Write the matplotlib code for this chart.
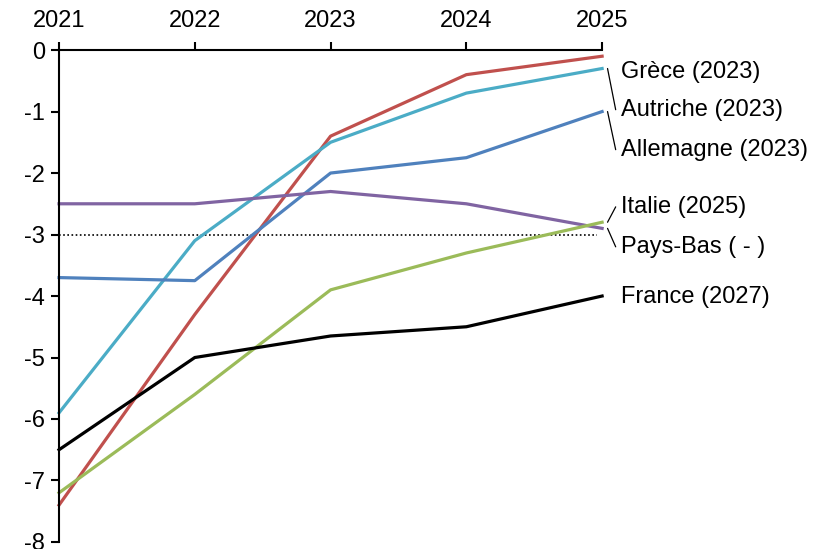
import matplotlib.pyplot as plt

plt.rcParams['font.family'] = ['Liberation Sans', 'DejaVu Sans']
plt.rcParams['axes.unicode_minus'] = False

years = [2021, 2022, 2023, 2024, 2025]
grece = [-7.4, -4.3, -1.4, -0.4, -0.1]
autriche = [-5.9, -3.1, -1.5, -0.7, -0.3]
allemagne = [-3.7, -3.75, -2.0, -1.75, -1.0]
pays_bas = [-2.5, -2.5, -2.3, -2.5, -2.9]
italie = [-7.2, -5.6, -3.9, -3.3, -2.8]
france = [-6.5, -5.0, -4.65, -4.5, -4.0]

series = [
    (grece, '#C0504D', 'Grèce (2023)', -0.36),
    (autriche, '#4BACC6', 'Autriche (2023)', -0.97),
    (allemagne, '#4F81BD', 'Allemagne (2023)', -1.62),
    (pays_bas, '#8064A2', 'Pays-Bas ( - )', -3.2),
    (italie, '#9BBB59', 'Italie (2025)', -2.55),
    (france, 'black', 'France (2027)', -4.02),
]
leaders = {'Autriche (2023)', 'Allemagne (2023)', 'Italie (2025)', 'Pays-Bas ( - )'}

fig = plt.figure(figsize=(8.13, 5.49), dpi=100)
ax = fig.add_axes([0.0726, 0.0128, 0.668, 0.896])

ax.plot([years[0], years[-1] - 0.04], [-3, -3], color='black', lw=1.2, ls=(0, (1, 1.5)))

for vals, col, lab, ylab in series:
    ax.plot(years, vals, color=col, lw=2.3, clip_on=False, solid_joinstyle='round')
    ax.text(years[-1] + 0.14, ylab, lab, fontsize=17, va='center', ha='left')
    if lab in leaders:
        ax.annotate('', xy=(years[-1] + 0.04, vals[-1]), xytext=(years[-1] + 0.1, ylab),
                    arrowprops=dict(arrowstyle='-', color='black', lw=0.9, shrinkA=0, shrinkB=0),
                    annotation_clip=False)

ax.set_xlim(2021, 2025)
ax.set_ylim(-8, 0)
ax.set_xticks(years)
ax.set_yticks(range(-8, 1))
ax.xaxis.tick_top()
ax.spines['bottom'].set_visible(False)
ax.spines['right'].set_visible(False)
ax.spines['top'].set_linewidth(1.5)
ax.spines['left'].set_linewidth(1.5)
ax.tick_params(axis='both', labelsize=17, width=1.5, length=6, direction='out')
ax.tick_params(axis='x', pad=7)
ax.tick_params(axis='y', pad=4)

fig.savefig('out.png', dpi=100)
